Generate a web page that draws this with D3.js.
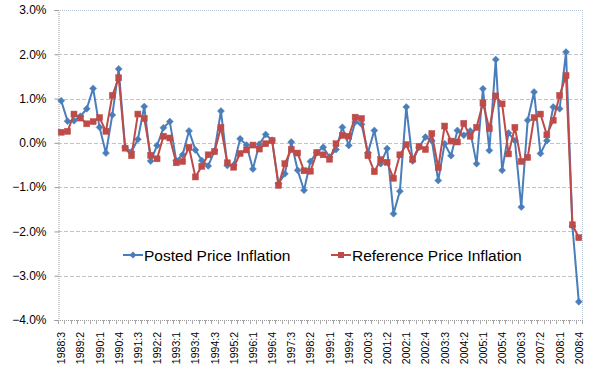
<!DOCTYPE html>
<html>
<head>
<meta charset="utf-8">
<script src="https://cdn.jsdelivr.net/npm/d3@7"></script>
<style>
  html, body { margin: 0; padding: 0; background: #ffffff; }
  svg { display: block; }
  text { font-family: "Liberation Sans", Arial, sans-serif; fill: #000; }
</style>
</head>
<body>
<div id="chart"></div>
<script>
// ---- data ----
const quarters = [];
for (let y = 1988; y <= 2008; y++) {
  for (let q = 1; q <= 4; q++) {
    if (y === 1988 && q < 3) continue;
    quarters.push(y + ":" + q);
  }
}
const postedInflation = [
  0.95, 0.49, 0.50, 0.60, 0.77, 1.23, 0.35, -0.23, 0.63, 1.67,
  -0.10, -0.20, 0.08, 0.82, -0.41, -0.06, 0.34, 0.48, -0.40, -0.27,
  0.27, -0.16, -0.40, -0.52, -0.18, 0.72, -0.51, -0.50, 0.09, -0.05,
  -0.59, -0.03, 0.19, 0.06, -0.92, -0.70, 0.02, -0.62, -1.07, -0.42,
  -0.22, -0.10, -0.32, -0.15, 0.35, -0.06, 0.47, 0.42, -0.22, 0.28,
  -0.47, -0.13, -1.60, -1.09, 0.81, -0.41, -0.10, 0.13, 0.05, -0.85,
  -0.02, -0.29, 0.28, 0.17, 0.27, -0.47, 1.22, -0.17, 1.88, -0.62,
  0.22, 0.05, -1.45, 0.51, 1.15, -0.24, 0.05, 0.81, 0.77, 2.05,
  -1.88, -3.59
];
const referenceInflation = [
  0.24, 0.26, 0.65, 0.56, 0.43, 0.48, 0.57, 0.26, 1.07, 1.47,
  -0.12, -0.29, 0.65, 0.55, -0.28, -0.36, 0.15, 0.11, -0.45, -0.42,
  -0.10, -0.77, -0.53, -0.27, -0.20, 0.35, -0.45, -0.55, -0.24, -0.16,
  -0.05, -0.14, -0.02, 0.05, -0.96, -0.47, -0.15, -0.23, -0.63, -0.64,
  -0.22, -0.27, -0.37, -0.02, 0.17, 0.15, 0.58, 0.55, -0.29, -0.65,
  -0.38, -0.44, -0.80, -0.27, -0.04, -0.37, -0.08, -0.15, 0.21, -0.56,
  0.38, 0.04, 0.02, 0.44, 0.15, 0.35, 0.90, 0.32, 1.06, 0.88,
  -0.25, 0.35, -0.42, -0.33, 0.57, 0.65, 0.18, 0.51, 1.07, 1.52,
  -1.85, -2.14
];
const seriesNames = ["Posted Price Inflation", "Reference Price Inflation"];
const yTicks = [3, 2, 1, 0, -1, -2, -3, -4];
const xTickLabels = quarters.filter((d, i) => i % 3 === 0);

// ---- layout ----
const W = 600, H = 381;
const plot = { left: 58, right: 582, top: 10, bottom: 320 };
const blue = "#4A7EBB", red = "#BE4B48";

const svg = d3.select("#chart").append("svg")
  .attr("width", W).attr("height", H);

const x = d3.scaleBand().domain(quarters).range([plot.left, plot.right]).padding(0);
const y = d3.scaleLinear().domain([-4, 3]).range([plot.bottom, plot.top]);
const cx = d => x(d) + x.bandwidth() / 2;

// gridlines
svg.append("g").selectAll("line")
  .data(yTicks.filter(t => t !== -4))
  .join("line")
  .attr("x1", plot.left).attr("x2", plot.right)
  .attr("y1", d => Math.round(y(d)) + 0.5).attr("y2", d => Math.round(y(d)) + 0.5)
  .attr("stroke", d => d === 3 ? "#b9c6d8" : "#c4c4c4")
  .attr("stroke-width", 1)
  .attr("stroke-dasharray", d => d === 3 ? "1,1" : "4,2");

// right border
svg.append("line")
  .attr("x1", plot.right + 0.5).attr("x2", plot.right + 0.5)
  .attr("y1", plot.top).attr("y2", plot.bottom)
  .attr("stroke", "#b9c6d8").attr("stroke-dasharray", "1,1");

// y axis
const yAxis = d3.axisLeft(y).tickValues(yTicks).tickSize(4)
  .tickFormat(d => d3.format(".1f")(d) + "%");
const gy = svg.append("g")
  .attr("transform", `translate(${plot.left + 0.5},0)`)
  .call(yAxis);
gy.select(".domain").attr("stroke", "#999").attr("stroke-dasharray", "1,1");
gy.selectAll(".tick line").attr("stroke", "#999");
gy.selectAll(".tick text").attr("font-size", 12).attr("x", -12)
  .attr("font-family", "Liberation Sans, Arial, sans-serif").attr("fill", "#222");

// x axis
const xBoundaries = quarters.map(q => x(q)).concat([plot.right]);
const gx = svg.append("g");
gx.append("line")
  .attr("x1", plot.left).attr("x2", plot.right)
  .attr("y1", plot.bottom + 0.5).attr("y2", plot.bottom + 0.5)
  .attr("stroke", "#999").attr("stroke-dasharray", "1,1");
gx.selectAll("line.tk").data(xBoundaries).join("line")
  .attr("class", "tk")
  .attr("x1", d => Math.round(d) + 0.5).attr("x2", d => Math.round(d) + 0.5)
  .attr("y1", plot.bottom).attr("y2", plot.bottom + 4)
  .attr("stroke", "#aaa");
gx.selectAll("text").data(xTickLabels).join("text")
  .attr("transform", d => `translate(${cx(d) + 4},${plot.bottom + 12}) rotate(-90)`)
  .attr("text-anchor", "end")
  .attr("font-size", 10.5)
  .attr("fill", "#222")
  .text(d => d);

// lines
const line = d3.line().x(d => cx(d.q)).y(d => y(d.v));
const postedData = quarters.map((q, i) => ({ q, v: postedInflation[i] }));
const refData = quarters.map((q, i) => ({ q, v: referenceInflation[i] }));

svg.append("path").datum(postedData)
  .attr("d", line).attr("fill", "none")
  .attr("stroke", blue).attr("stroke-width", 2).attr("stroke-linejoin", "round");
svg.append("g").selectAll("path").data(postedData).join("path")
  .attr("transform", d => `translate(${cx(d.q)},${y(d.v)})`)
  .attr("d", "M0,-3.5L3.5,0L0,3.5L-3.5,0Z")
  .attr("fill", blue).attr("stroke", blue).attr("stroke-width", 0.5);

svg.append("path").datum(refData)
  .attr("d", line).attr("fill", "none")
  .attr("stroke", red).attr("stroke-width", 2).attr("stroke-linejoin", "round");
svg.append("g").selectAll("rect").data(refData).join("rect")
  .attr("x", d => cx(d.q) - 3).attr("y", d => y(d.v) - 3)
  .attr("width", 6).attr("height", 6)
  .attr("fill", red).attr("stroke", red).attr("stroke-width", 0.5);

// legend
const legend = svg.append("g");
const legendItems = [
  { name: seriesNames[0], color: blue, x0: 123, shape: "diamond" },
  { name: seriesNames[1], color: red, x0: 331, shape: "square" }
];
const ly = 255;
legendItems.forEach(it => {
  legend.append("line")
    .attr("x1", it.x0).attr("x2", it.x0 + 20)
    .attr("y1", ly).attr("y2", ly)
    .attr("stroke", it.color).attr("stroke-width", 2);
  if (it.shape === "diamond") {
    legend.append("path")
      .attr("transform", `translate(${it.x0 + 10},${ly})`)
      .attr("d", "M0,-3.5L3.5,0L0,3.5L-3.5,0Z")
      .attr("fill", it.color);
  } else {
    legend.append("rect")
      .attr("x", it.x0 + 7).attr("y", ly - 3).attr("width", 6).attr("height", 6)
      .attr("fill", it.color);
  }
  legend.append("text")
    .attr("x", it.x0 + 21).attr("y", ly + 6)
    .attr("font-size", 15.5)
    .attr("fill", "#222")
    .text(it.name);
});
</script>
</body>
</html>
